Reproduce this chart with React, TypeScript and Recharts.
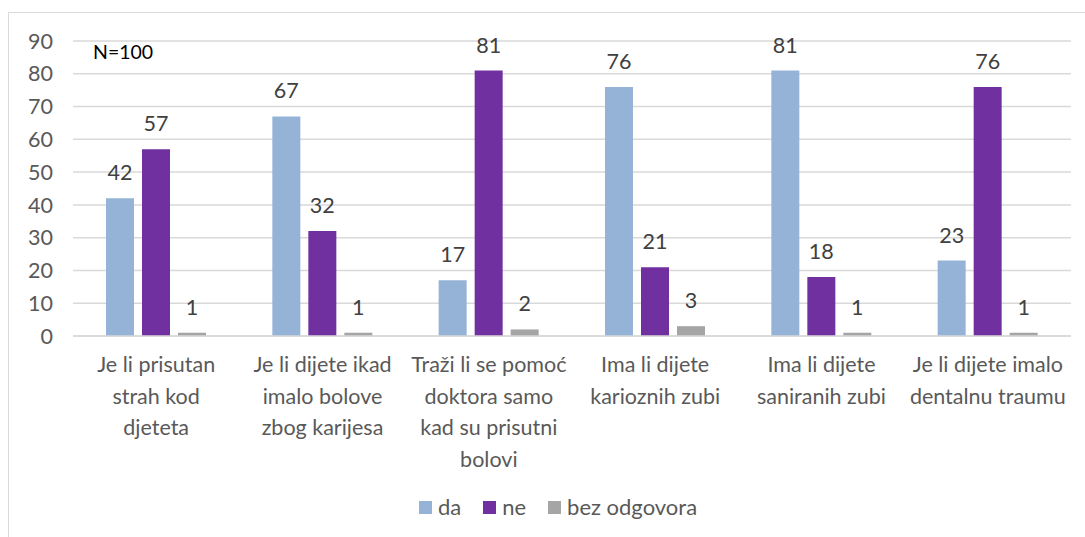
import React from "react";
import { BarChart, Bar, XAxis, YAxis, CartesianGrid, Legend, LabelList } from "recharts";

const categories = [
  "Je li prisutan\nstrah kod\ndjeteta",
  "Je li dijete ikad\nimalo bolove\nzbog karijesa",
  "Traži li se pomoć\ndoktora samo\nkad su prisutni\nbolovi",
  "Ima li dijete\nkarioznih zubi",
  "Ima li dijete\nsaniranih zubi",
  "Je li dijete imalo\ndentalnu traumu",
];
const da = [42, 67, 17, 76, 81, 23];
const ne = [57, 32, 81, 21, 18, 76];
const bezOdgovora = [1, 1, 2, 3, 1, 1];
const yTicks = [0, 10, 20, 30, 40, 50, 60, 70, 80, 90];
const seriesNames = ["da", "ne", "bez odgovora"];
const colors = ["#95B3D7", "#7030A0", "#A5A5A5"];

const data = categories.map((c, i) => ({
  category: c,
  da: da[i],
  ne: ne[i],
  bez: bezOdgovora[i],
}));

const FONT = "Lato, 'Open Sans', sans-serif";
const FS = 21.5;

const CategoryTick = (props: any) => {
  const { x, y, payload } = props;
  const lines = String(payload.value).split("\n");
  return (
    <g>
      {lines.map((l: string, i: number) => (
        <text
          key={i}
          x={x}
          y={y + 28 + i * 31.5}
          textAnchor="middle"
          fill="#595959"
          fontSize={FS}
          fontFamily={FONT}
        >
          {l}
        </text>
      ))}
    </g>
  );
};

const LegendContent = () => (
  <div style={{ display: "flex", justifyContent: "center", alignItems: "center", fontFamily: FONT, fontSize: 22, color: "#595959", lineHeight: "24px", paddingLeft: 36 }}>
    {seriesNames.map((n, i) => (
      <div key={n} style={{ display: "flex", alignItems: "center", marginRight: i < 2 ? 22 : 0 }}>
        <span style={{ display: "inline-block", width: 13, height: 13, background: colors[i], marginRight: 6 }} />
        <span>{n}</span>
      </div>
    ))}
  </div>
);

export default function App() {
  return (
    <div
      style={{
        position: "fixed",
        left: 8,
        top: 12,
        width: 1080,
        height: 530,
        border: "1px solid #d9d9d9",
        background: "#fff",
        boxSizing: "border-box",
      }}
    >
      <div style={{ position: "absolute", left: 84, top: 27, fontFamily: FONT, fontSize: 19.5, color: "#000" }}>N=100</div>
      <BarChart
        width={1077}
        height={525}
        data={data}
        margin={{ top: 28, right: 15, left: 0, bottom: 0 }}
        barCategoryGap="20%"
        barGap={8}
      >
        <CartesianGrid vertical={false} stroke="#d9d9d9" strokeWidth={1.5} />
        <XAxis
          dataKey="category"
          tick={<CategoryTick />}
          tickLine={false}
          axisLine={{ stroke: "#d9d9d9", strokeWidth: 1.5 }}
          interval={0}
          height={178}
        />
        <YAxis
          domain={[0, 90]}
          ticks={yTicks}
          tickLine={false}
          axisLine={false}
          width={64}
          tickMargin={14}
          tick={{ fill: "#595959", fontSize: FS, fontFamily: FONT }}
        />
        <Legend verticalAlign="bottom" content={<LegendContent />} wrapperStyle={{ bottom: 19 }} />
        <Bar dataKey="da" name="da" fill={colors[0]} barSize={28} isAnimationActive={false}>
          <LabelList dataKey="da" position="top" offset={18} fill="#404040" fontSize={FS} fontFamily={FONT} />
        </Bar>
        <Bar dataKey="ne" name="ne" fill={colors[1]} barSize={28} isAnimationActive={false}>
          <LabelList dataKey="ne" position="top" offset={18} fill="#404040" fontSize={FS} fontFamily={FONT} />
        </Bar>
        <Bar dataKey="bez" name="bez odgovora" fill={colors[2]} barSize={28} isAnimationActive={false}>
          <LabelList dataKey="bez" position="top" offset={18} fill="#404040" fontSize={FS} fontFamily={FONT} />
        </Bar>
      </BarChart>
    </div>
  );
}
